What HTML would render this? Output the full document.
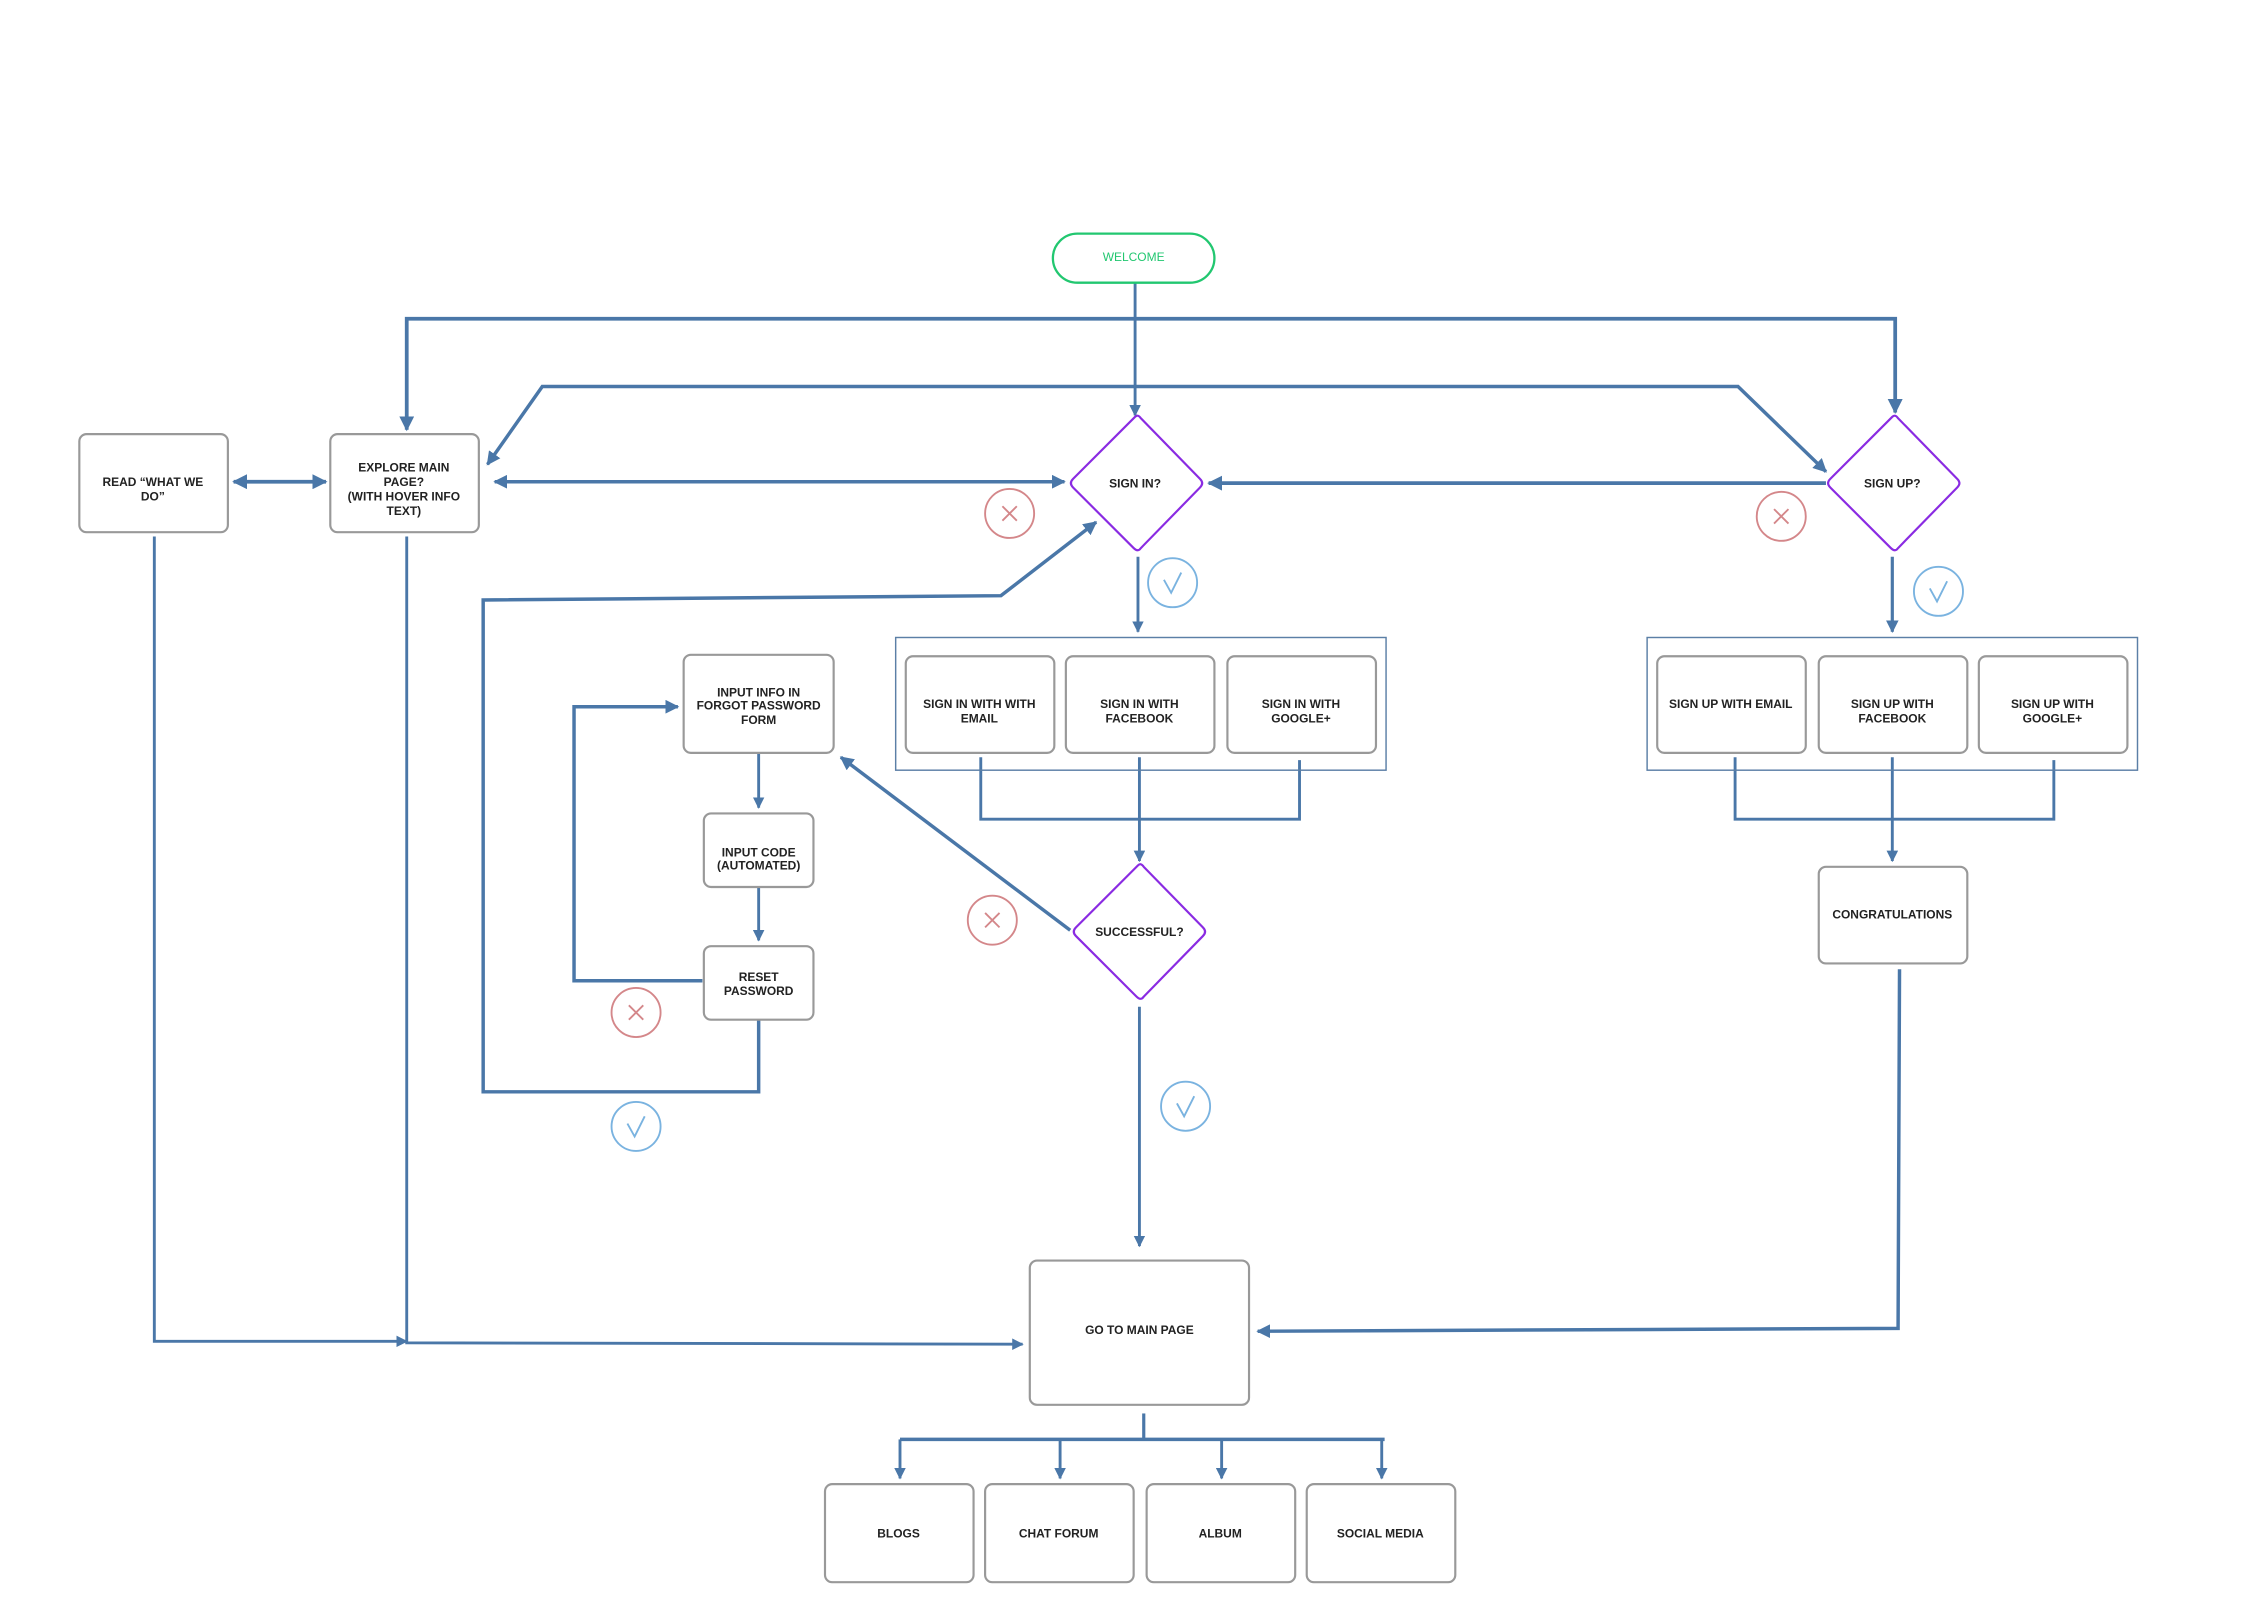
<!DOCTYPE html>
<html><head><meta charset="utf-8"><style>
html,body{margin:0;padding:0;background:#fff;width:2250px;height:1606px;overflow:hidden}
svg{display:block}
text{font-family:"Liberation Sans",sans-serif;font-weight:bold;font-size:8.3px;fill:#222;text-anchor:middle}
</style></head><body>
<svg width="2250" height="1606" viewBox="0 0 1560 1113.5" preserveAspectRatio="none" xmlns="http://www.w3.org/2000/svg">
<defs>
<marker id="a" viewBox="0 0 10 10" refX="9" refY="5" markerWidth="4" markerHeight="4" orient="auto-start-reverse" markerUnits="strokeWidth">
<path d="M0,0 L10,5 L0,10 z" fill="#4a77a8"/></marker>
</defs>
<g fill="none" stroke="#4a77a8" stroke-width="2.4">
<path d="M787,196 V288" marker-end="url(#a)" stroke-width="2"/>
<path d="M282,298 V221 H1314 V286" marker-start="url(#a)" marker-end="url(#a)" stroke-width="2.6"/>
<path d="M338,322 L376,268 H1205 L1266,327" marker-start="url(#a)" marker-end="url(#a)"/>
<path d="M162,334 H226" marker-start="url(#a)" marker-end="url(#a)" stroke-width="2.6"/>
<path d="M343,334 H738" marker-start="url(#a)" marker-end="url(#a)"/>
<path d="M1266,335 H838" marker-end="url(#a)" stroke-width="2.6"/>
<path d="M789,386 V438" marker-end="url(#a)" stroke-width="2"/>
<path d="M1312,386 V438" marker-end="url(#a)" stroke-width="2.2"/>
<path d="M680,525 V568 H901 V527" stroke-width="2"/>
<path d="M790,525 V597" marker-end="url(#a)" stroke-width="2"/>
<path d="M1203,525 V568 H1424 V527" stroke-width="2"/>
<path d="M1312,525 V597" marker-end="url(#a)" stroke-width="2"/>
<path d="M742,645 L583,525" marker-end="url(#a)"/>
<path d="M790,698 V864" marker-end="url(#a)" stroke-width="2"/>
<path d="M526,522 V560" marker-end="url(#a)" stroke-width="2"/>
<path d="M526,615 V652" marker-end="url(#a)" stroke-width="2"/>
<path d="M487,680 H398 V490 H470" marker-end="url(#a)" stroke-width="2.4"/>
<path d="M526,707 V757 H335 V416 L694,413 L760,362" marker-end="url(#a)"/>
<path d="M1317,672 L1316,921 L872,923" marker-end="url(#a)"/>
<path d="M107,372 V930 H282" marker-end="url(#a)" stroke-width="2"/>
<path d="M282,372 V931 L709,932" marker-end="url(#a)" stroke-width="2"/>
<path d="M793,980 V998" stroke-width="2.2"/>
<path d="M624,998 H960" stroke-width="2.4"/>
<path d="M624,998 V1025" marker-end="url(#a)" stroke-width="2"/>
<path d="M735,998 V1025" marker-end="url(#a)" stroke-width="2"/>
<path d="M847,998 V1025" marker-end="url(#a)" stroke-width="2"/>
<path d="M958,998 V1025" marker-end="url(#a)" stroke-width="2"/>
</g>
<rect x="621" y="442" width="340" height="92" fill="none" stroke="#5b7fa6" stroke-width="1"/>
<rect x="1142" y="442" width="340" height="92" fill="none" stroke="#5b7fa6" stroke-width="1"/>
<rect x="730" y="162" width="112" height="34" rx="17" fill="#fff" stroke="#22c770" stroke-width="1.6"/>
<text x="786" y="181" style="fill:#22c770;font-weight:normal">WELCOME</text>
<g fill="#fff" stroke="#999" stroke-width="1.5">
<rect x="55" y="301" width="103" height="68" rx="5"/>
<rect x="229" y="301" width="103" height="68" rx="5"/>
<rect x="628" y="455" width="103" height="67" rx="5"/>
<rect x="739" y="455" width="103" height="67" rx="5"/>
<rect x="851" y="455" width="103" height="67" rx="5"/>
<rect x="1149" y="455" width="103" height="67" rx="5"/>
<rect x="1261" y="455" width="103" height="67" rx="5"/>
<rect x="1372" y="455" width="103" height="67" rx="5"/>
<rect x="474" y="454" width="104" height="68" rx="5"/>
<rect x="488" y="564" width="76" height="51" rx="5"/>
<rect x="488" y="656" width="76" height="51" rx="5"/>
<rect x="1261" y="601" width="103" height="67" rx="5"/>
<rect x="714" y="874" width="152" height="100" rx="5"/>
<rect x="572" y="1029" width="103" height="68" rx="5"/>
<rect x="683" y="1029" width="103" height="68" rx="5"/>
<rect x="795" y="1029" width="103" height="68" rx="5"/>
<rect x="906" y="1029" width="103" height="68" rx="5"/>
</g>
<g fill="#fff" stroke="#8a2be2" stroke-width="1.5" stroke-linejoin="round">
<path d="M787,289 Q789,287 791,290 L832,332 Q835,335 832,338 L791,380 Q789,383 786,380 L744,338 Q741,335 744,332 Z"/>
<path d="M1312,289 Q1314,287 1316,290 L1357,332 Q1360,335 1357,338 L1316,380 Q1314,383 1311,380 L1269,338 Q1266,335 1269,332 Z"/>
<path d="M789,600 Q791,598 793,601 L834,643 Q837,646 834,649 L793,691 Q791,694 788,691 L746,649 Q743,646 746,643 Z"/>
</g>
<g fill="none" stroke="#d4878a" stroke-width="1.3">
<circle cx="700" cy="356" r="17"/><path d="M695,351 l10,10 M705,351 l-10,10"/>
<circle cx="1235" cy="358" r="17"/><path d="M1230,353 l10,10 M1240,353 l-10,10"/>
<circle cx="688" cy="638" r="17"/><path d="M683,633 l10,10 M693,633 l-10,10"/>
<circle cx="441" cy="702" r="17"/><path d="M436,697 l10,10 M446,697 l-10,10"/>
</g>
<g fill="none" stroke="#7ab3e0" stroke-width="1.3">
<circle cx="813" cy="404" r="17"/><path d="M807,402 l5,9 l7,-14"/>
<circle cx="1344" cy="410" r="17"/><path d="M1338,408 l5,9 l7,-14"/>
<circle cx="822" cy="767" r="17"/><path d="M816,765 l5,9 l7,-14"/>
<circle cx="441" cy="781" r="17"/><path d="M435,779 l5,9 l7,-14"/>
</g>
<text x="106" y="337">READ “WHAT WE</text><text x="106" y="347">DO”</text>
<text x="280" y="327">EXPLORE MAIN</text><text x="280" y="337">PAGE?</text><text x="280" y="347">(WITH HOVER INFO</text><text x="280" y="357">TEXT)</text>
<text x="787" y="338">SIGN IN?</text>
<text x="1312" y="338">SIGN UP?</text>
<text x="679" y="491">SIGN IN WITH WITH</text><text x="679" y="501">EMAIL</text>
<text x="790" y="491">SIGN IN WITH</text><text x="790" y="501">FACEBOOK</text>
<text x="902" y="491">SIGN IN WITH</text><text x="902" y="501">GOOGLE+</text>
<text x="1200" y="491">SIGN UP WITH EMAIL</text>
<text x="1312" y="491">SIGN UP WITH</text><text x="1312" y="501">FACEBOOK</text>
<text x="1423" y="491">SIGN UP WITH</text><text x="1423" y="501">GOOGLE+</text>
<text x="526" y="483">INPUT INFO IN</text><text x="526" y="492">FORGOT PASSWORD</text><text x="526" y="502">FORM</text>
<text x="526" y="594">INPUT CODE</text><text x="526" y="603">(AUTOMATED)</text>
<text x="526" y="680">RESET</text><text x="526" y="690">PASSWORD</text>
<text x="790" y="649">SUCCESSFUL?</text>
<text x="1312" y="637">CONGRATULATIONS</text>
<text x="790" y="925">GO TO MAIN PAGE</text>
<text x="623" y="1066">BLOGS</text>
<text x="734" y="1066">CHAT FORUM</text>
<text x="846" y="1066">ALBUM</text>
<text x="957" y="1066">SOCIAL MEDIA</text>
</svg>
</body></html>
